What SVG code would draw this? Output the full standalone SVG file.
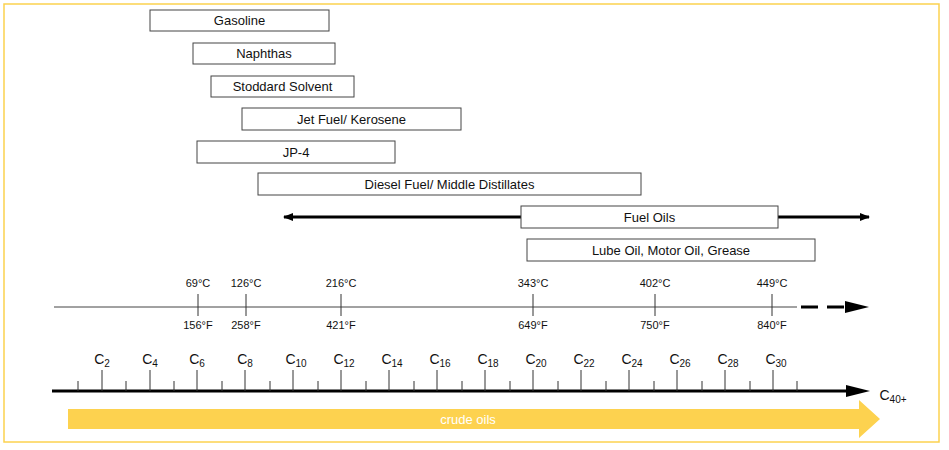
<svg xmlns="http://www.w3.org/2000/svg" width="949" height="450" viewBox="0 0 949 450">
<style>
.b rect{fill:#fff;stroke:#444;stroke-width:1}
text{font-family:"Liberation Sans",Arial,sans-serif;fill:#111}
.b text{font-size:13px;text-anchor:middle}
.t{font-size:11px;text-anchor:middle}
.c{font-size:14px;text-anchor:middle}
.c tspan{font-size:10px}
.tk line{stroke:#333;stroke-width:1}
</style>
<defs>
<marker id="ah" markerWidth="10" markerHeight="8" refX="9" refY="4" orient="auto-start-reverse" markerUnits="userSpaceOnUse" viewBox="0 0 10 8"><path d="M0,0L10,4L0,8z" fill="#000"/></marker>
</defs>
<rect x="4" y="4" width="935" height="438" fill="#fff" stroke="#fcd24f" stroke-width="1.5"/>
<g id="gasoline" class="b"><rect x="150" y="10" width="179" height="21"/><text x="239.5" y="25">Gasoline</text></g>
<g id="naphthas" class="b"><rect x="193" y="43" width="142" height="21"/><text x="264" y="58">Naphthas</text></g>
<g id="stoddard" class="b"><rect x="211" y="76" width="143" height="21"/><text x="282.5" y="91">Stoddard Solvent</text></g>
<g id="jetfuel" class="b"><rect x="242" y="108" width="219" height="22"/><text x="351.5" y="124">Jet Fuel/ Kerosene</text></g>
<g id="jp4" class="b"><rect x="197" y="141" width="198" height="22"/><text x="296" y="157">JP-4</text></g>
<g id="diesel" class="b"><rect x="258" y="173" width="383" height="22"/><text x="449.5" y="189">Diesel Fuel/ Middle Distillates</text></g>
<g id="connectors">
<line x1="284" y1="217" x2="869" y2="217" stroke="#000" stroke-width="3" marker-start="url(#ah)" marker-end="url(#ah)"/>
<line x1="54" y1="307" x2="797" y2="307" stroke="#444" stroke-width="1"/>
<line x1="801" y1="307" x2="845" y2="307" stroke="#000" stroke-width="3" stroke-dasharray="17,9"/>
<path d="M845,301L869,307L845,313z" fill="#000"/>
<line x1="52" y1="391" x2="846" y2="391" stroke="#000" stroke-width="3"/>
<path d="M846,385L870,391L846,397z" fill="#000"/>
</g>
<g id="fueloils" class="b"><rect x="521" y="206" width="257" height="22"/><text x="649.5" y="222">Fuel Oils</text></g>
<g id="lube" class="b"><rect x="527" y="239" width="288" height="22"/><text x="671" y="255">Lube Oil, Motor Oil, Grease</text></g>
<g id="temps" class="tk">
<line x1="198" y1="294" x2="198" y2="316"/><line x1="246" y1="294" x2="246" y2="316"/><line x1="341" y1="294" x2="341" y2="316"/>
<line x1="533" y1="294" x2="533" y2="316"/><line x1="655" y1="294" x2="655" y2="316"/><line x1="772" y1="294" x2="772" y2="316"/>
<text class="t" x="198" y="287">69°C</text><text class="t" x="246" y="287">126°C</text><text class="t" x="341" y="287">216°C</text>
<text class="t" x="533" y="287">343°C</text><text class="t" x="655" y="287">402°C</text><text class="t" x="772" y="287">449°C</text>
<text class="t" x="198" y="329">156°F</text><text class="t" x="246" y="329">258°F</text><text class="t" x="341" y="329">421°F</text>
<text class="t" x="533" y="329">649°F</text><text class="t" x="655" y="329">750°F</text><text class="t" x="772" y="329">840°F</text>
</g>
<g id="carbons" class="tk">
<g stroke="#999"><line x1="78" y1="381" x2="78" y2="391"/><line x1="126" y1="381" x2="126" y2="391"/><line x1="174" y1="381" x2="174" y2="391"/><line x1="222" y1="381" x2="222" y2="391"/><line x1="270" y1="381" x2="270" y2="391"/><line x1="318" y1="381" x2="318" y2="391"/><line x1="366" y1="381" x2="366" y2="391"/><line x1="414" y1="381" x2="414" y2="391"/><line x1="462" y1="381" x2="462" y2="391"/><line x1="510" y1="381" x2="510" y2="391"/><line x1="558" y1="381" x2="558" y2="391"/><line x1="606" y1="381" x2="606" y2="391"/><line x1="654" y1="381" x2="654" y2="391"/><line x1="702" y1="381" x2="702" y2="391"/><line x1="750" y1="381" x2="750" y2="391"/><line x1="797" y1="381" x2="797" y2="391"/></g>
<line x1="102" y1="370" x2="102" y2="391"/><line x1="150" y1="370" x2="150" y2="391"/><line x1="197" y1="370" x2="197" y2="391"/><line x1="245" y1="370" x2="245" y2="391"/><line x1="293" y1="370" x2="293" y2="391"/><line x1="341" y1="370" x2="341" y2="391"/><line x1="389" y1="370" x2="389" y2="391"/><line x1="437" y1="370" x2="437" y2="391"/><line x1="485" y1="370" x2="485" y2="391"/><line x1="533" y1="370" x2="533" y2="391"/><line x1="581" y1="370" x2="581" y2="391"/><line x1="629" y1="370" x2="629" y2="391"/><line x1="677" y1="370" x2="677" y2="391"/><line x1="725" y1="370" x2="725" y2="391"/><line x1="773" y1="370" x2="773" y2="391"/>
<text class="c" x="102" y="364">C<tspan dy="3">2</tspan></text>
<text class="c" x="150" y="364">C<tspan dy="3">4</tspan></text>
<text class="c" x="197" y="364">C<tspan dy="3">6</tspan></text>
<text class="c" x="245" y="364">C<tspan dy="3">8</tspan></text>
<text class="c" x="296" y="364">C<tspan dy="3">10</tspan></text>
<text class="c" x="344" y="364">C<tspan dy="3">12</tspan></text>
<text class="c" x="392" y="364">C<tspan dy="3">14</tspan></text>
<text class="c" x="440" y="364">C<tspan dy="3">16</tspan></text>
<text class="c" x="488" y="364">C<tspan dy="3">18</tspan></text>
<text class="c" x="536" y="364">C<tspan dy="3">20</tspan></text>
<text class="c" x="584" y="364">C<tspan dy="3">22</tspan></text>
<text class="c" x="632" y="364">C<tspan dy="3">24</tspan></text>
<text class="c" x="680" y="364">C<tspan dy="3">26</tspan></text>
<text class="c" x="728" y="364">C<tspan dy="3">28</tspan></text>
<text class="c" x="776" y="364">C<tspan dy="3">30</tspan></text>
<text class="c" x="893" y="400">C<tspan dy="3">40+</tspan></text>
</g>
<g id="crude">
<path d="M68,409H859V400L880,419L859,438V429H68z" fill="#fdd24f"/>
<text x="468" y="424" font-size="13" text-anchor="middle" style="fill:#fff">crude oils</text>
</g>
</svg>
